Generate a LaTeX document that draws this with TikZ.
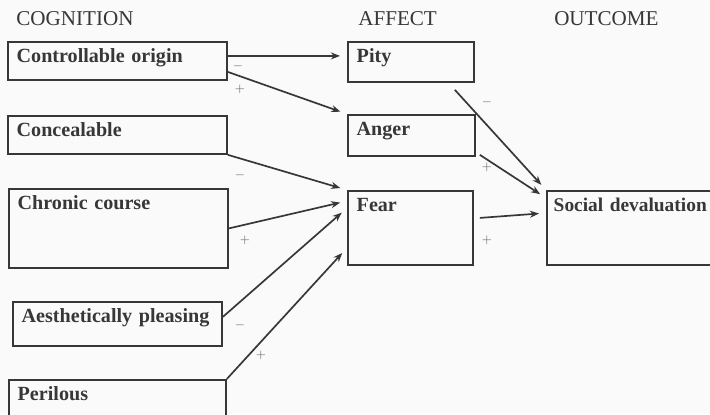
\documentclass[tikz,border=0pt]{standalone}
\usepackage{fontspec}
\setmainfont{Liberation Serif}
\usepackage{tikz}
\usetikzlibrary{arrows.meta}

\definecolor{bgcol}{RGB}{250,250,250}
\definecolor{inkcol}{RGB}{55,55,55}

\begin{document}
\begin{tikzpicture}[
    box/.style={draw=inkcol, line width=1.3pt, fill=bgcol, text=inkcol, anchor=north west,
        align=left, inner xsep=0.22cm, inner ysep=0pt, text height=0.52cm,
        font=\bfseries\fontsize{14.3}{17}\selectfont},
    head/.style={anchor=base, text=inkcol, font=\fontsize{15}{18}\selectfont},
    link/.style={draw=inkcol, line width=1.2pt, -{Stealth[length=6.5pt,width=5pt]}, shorten >=0.175cm},
    sign/.style={text=gray!75!black, inner sep=0pt, font=\fontsize{9}{11}\selectfont}
]
    \fill[bgcol] (0,0) rectangle (17.75,10.35);
    \path[use as bounding box, clip] (0,0) rectangle (17.75,10.35);

    % Column headings
    \node[head] (hcog) at (1.875,9.725) {COGNITION};
    \node[head] (haff) at (9.94,9.725) {AFFECT};
    \node[head] (hout) at (15.16,9.725) {OUTCOME};

    % Cognition boxes
    \node[box, text width=5.035cm, text depth=0.43cm] (ctrl) at (0.175,9.325) {Controllable origin};
    \node[box, text width=5.035cm, text depth=0.43cm] (conc) at (0.175,7.475) {Concealable};
    \node[box, text width=5.035cm, text depth=1.455cm] (chron) at (0.2,5.65) {Chronic course};
    \node[box, text width=4.785cm, text depth=0.58cm] (aesth) at (0.3,2.825) {Aesthetically pleasing};
    \node[box, text width=4.985cm, text depth=1.0cm] (peril) at (0.2,0.875) {Perilous};

    % Affect boxes
    \node[box, text width=2.71cm, text depth=0.48cm] (pity) at (8.675,9.325) {Pity};
    \node[box, text width=2.735cm, text depth=0.505cm] (anger) at (8.675,7.5) {Anger};
    \node[box, text width=2.685cm, text depth=1.33cm] (fear) at (8.675,5.6) {Fear};

    % Outcome box (runs past the right edge)
    \node[box, text width=5cm, text depth=1.33cm, inner xsep=0.17cm,
        font=\bfseries\fontsize{13.8}{17}\selectfont] (social) at (13.65,5.6) {Social devaluation};

    % Cognition -> affect
    \draw[link] ([yshift=0.125cm]ctrl.east) -- ([yshift=0.15cm]pity.west);
    \draw[link] ([yshift=-0.275cm]ctrl.east) -- (anger.north west);
    \draw[link] (conc.south east) -- (fear.north west);
    \draw[link] (chron.east) -- ([yshift=-0.275cm]fear.north west);
    \draw[link] ([yshift=0.175cm]aesth.east) -- ([yshift=-0.45cm]fear.north west);
    \draw[link] (peril.north east) -- ([yshift=0.45cm]fear.south west);

    % Affect -> outcome
    \draw[link] ([xshift=-0.5cm,yshift=-0.175cm]pity.south east) -- (social.north west);
    \draw[link] ([xshift=0.1cm,yshift=0.05cm]anger.south east) -- ([yshift=-0.2cm]social.north west);
    \draw[link] ([xshift=0.15cm,yshift=0.25cm]fear.east) -- ([yshift=-0.575cm]social.north west);

    % Signs
    \node[sign] (s1) at (5.95,8.7) {$-$};
    \node[sign] (s2) at (6.0,8.125) {$+$};
    \node[sign] (s3) at (6.0,5.975) {$-$};
    \node[sign] (s4) at (6.125,4.35) {$+$};
    \node[sign] (s5) at (6.0,2.225) {$-$};
    \node[sign] (s6) at (6.525,1.475) {$+$};
    \node[sign] (s7) at (12.175,7.8) {$-$};
    \node[sign] (s8) at (12.175,6.175) {$+$};
    \node[sign] (s9) at (12.175,4.35) {$+$};
\end{tikzpicture}
\end{document}
